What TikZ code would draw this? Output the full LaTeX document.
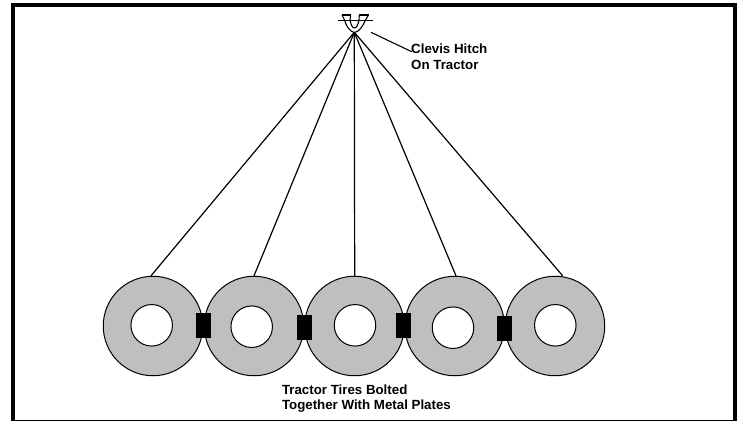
\documentclass[tikz,border=0pt]{standalone}
\usepackage{fontspec}
\setmainfont{Liberation Sans}
\definecolor{tiregray}{gray}{0.75}
\tikzset{
  tire/.style={circle,draw=black,fill=tiregray,line width=1pt,minimum size=99.5pt,inner sep=0pt},
  rimhole/.style={circle,draw=black,fill=white,line width=1pt,minimum size=41.5pt,inner sep=0pt},
  plate/.style={rectangle,fill=black,minimum width=15pt,minimum height=25pt,inner sep=0pt},
  chain/.style={line width=1.2pt},
  hitchline/.style={line width=1.1pt},
  lbl/.style={font=\bfseries\fontsize{13.3}{15.5}\selectfont,align=left,inner sep=0pt,anchor=north west,text=black}
}
\begin{document}
\begin{tikzpicture}[x=1pt,y=-1pt]
\useasboundingbox (0,0) rectangle (740,421);
\fill[white] (0,0) rectangle (740,421);
\fill[black] (11,3) rectangle (737,7);
\fill[black] (11,3) rectangle (15,421);
\fill[black] (733,3) rectangle (737,421);
\fill[black] (11,419.7) rectangle (737,421);
\node[tire] (t1) at (153,326) {};
\node[tire] (t2) at (254,326) {};
\node[tire] (t3) at (354.5,326) {};
\node[tire] (t4) at (454.7,326) {};
\node[tire] (t5) at (555,326) {};
\node[rimhole] (h1) at (151.7,325.3) {};
\node[rimhole] (h2) at (251.7,326.7) {};
\node[rimhole] (h3) at (355,325.3) {};
\node[rimhole] (h4) at (453,327.7) {};
\node[rimhole] (h5) at (555.3,325.3) {};
\node[plate] (p1) at (203.5,325.4) {};
\node[plate] (p2) at (304.5,327.5) {};
\node[plate] (p3) at (403.5,325.4) {};
\node[plate] (p4) at (504.5,328.5) {};
\coordinate (hub) at (354.3,32.3);
\draw[chain] (hub) -- (151,275.8);
\draw[chain] (hub) -- (254,275.8);
\draw[chain] (hub) -- (354.7,275.8);
\draw[chain] (hub) -- (456,275.8);
\draw[chain] (hub) -- (562.7,275.8);
\draw[hitchline] (337.5,20.3) -- (373,20.3);
\draw[hitchline] (342,15) -- (350.7,15) (359.3,15) -- (368.5,15);
\draw[hitchline] (342,15) -- (344.5,20) .. controls (346,26) and (350,32) .. (354.5,32.5) .. controls (359,32) and (363,26) .. (365.5,20) -- (368.5,15);
\draw[hitchline] (350.7,15) -- (350,20) .. controls (351,25) and (352.5,28) .. (354.5,28) .. controls (356.5,28) and (358,25) .. (359,20) -- (359.3,15);
\node[lbl] (clevis) at (411,43.8) {Clevis Hitch\\On Tractor};
\coordinate (lead) at (371,32.3);
\coordinate (leadend) at (411.7,51.7);
\draw[hitchline] (lead) -- (leadend);
\node[lbl] (tires) at (281.8,384.3) {Tractor Tires Bolted\\Together With Metal Plates};
\end{tikzpicture}
\end{document}
